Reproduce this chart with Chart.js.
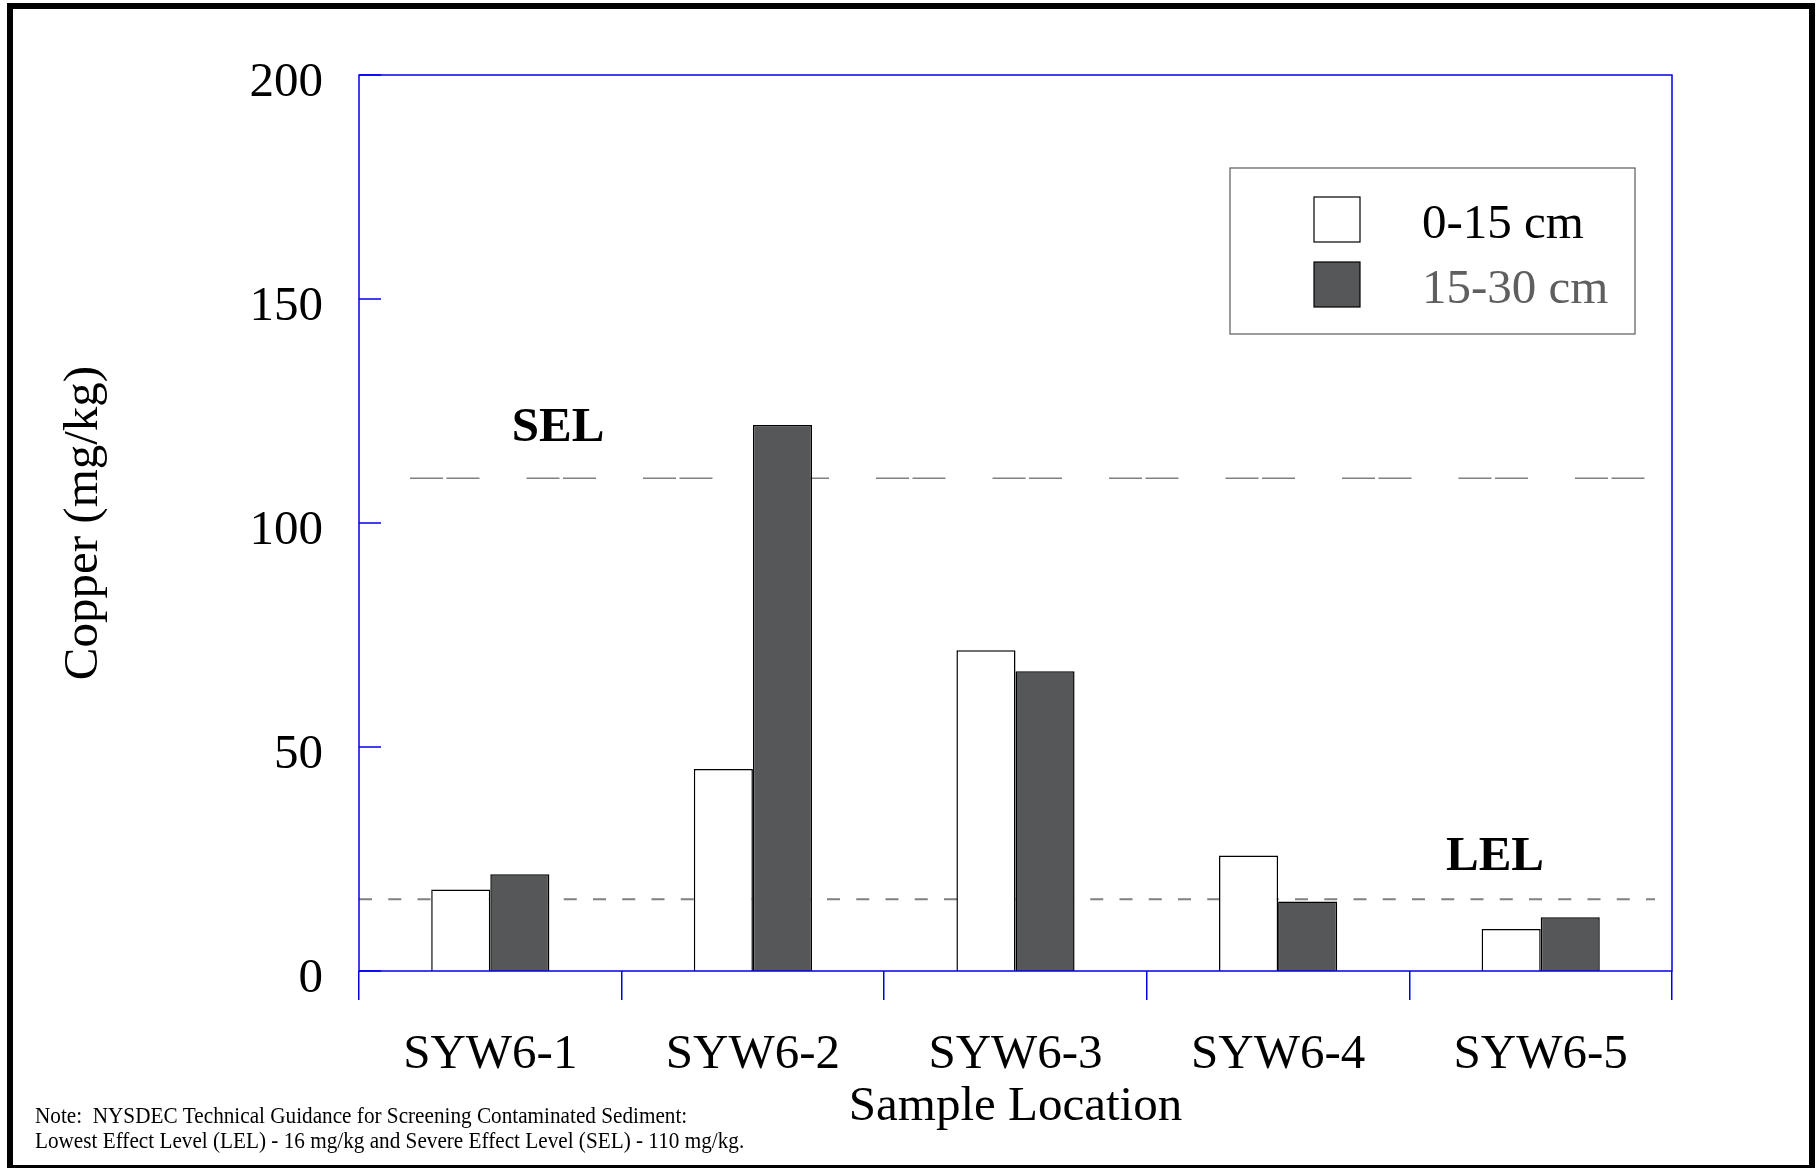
<!DOCTYPE html>
<html>
<head>
<meta charset="utf-8">
<title>Copper in sediment – SYW6</title>
<script src="https://cdn.jsdelivr.net/npm/chart.js@4/dist/chart.umd.min.js"></script>
<style>
  html, body { margin: 0; padding: 0; background: #fff; }
  canvas { display: block; }
</style>
</head>
<body>
<canvas id="chart" width="1816" height="1168"></canvas>
<script>
// Sample locations and copper concentrations (mg/kg) by depth interval
const locations = ['SYW6-1', 'SYW6-2', 'SYW6-3', 'SYW6-4', 'SYW6-5'];
const copperShallow = [18.2, 45.1, 71.6, 25.8, 9.4];   // 0-15 cm
const copperDeep = [21.6, 121.9, 66.9, 15.5, 12.0];     // 15-30 cm
const depthLabels = ['0-15 cm', '15-30 cm'];
const yTickValues = [0, 50, 100, 150, 200];

// NYSDEC screening levels (mg/kg)
const LEL = 16;
const SEL = 110;

const noteLines = [
  'Note:  NYSDEC Technical Guidance for Screening Contaminated Sediment:',
  'Lowest Effect Level (LEL) - 16 mg/kg and Severe Effect Level (SEL) - 110 mg/kg.'
];

const SERIF = "'Liberation Serif', 'Times New Roman', Times, serif";
const AXIS_BLUE = '#0000e6';
const DARK_FILL = '#565759';
const legendTextColors = ['#000000', '#5f5f5f'];

const decorations = {
  id: 'decorations',
  beforeDraw(chart) {
    const ctx = chart.ctx;
    ctx.save();
    ctx.fillStyle = '#ffffff';
    ctx.fillRect(0, 0, chart.width, chart.height);
    ctx.restore();
  },
  beforeDatasetsDraw(chart) {
    // screening-level reference lines sit behind the bars
    const { ctx, chartArea: a, scales: { y } } = chart;
    ctx.save();
    ctx.strokeStyle = '#808080';

    const ySel = y.getPixelForValue(SEL);
    ctx.lineWidth = 1.5;
    ctx.setLineDash([33, 3.5, 33, 47]);
    ctx.beginPath();
    ctx.moveTo(a.left + 51, ySel);
    ctx.lineTo(a.left + 51 + 10 * 116.5 + 69.5, ySel);
    ctx.stroke();

    const yLel = y.getPixelForValue(LEL);
    ctx.lineWidth = 2;
    ctx.setLineDash([13, 16.25]);
    ctx.beginPath();
    ctx.moveTo(a.left, yLel);
    ctx.lineTo(a.right - 17, yLel);
    ctx.stroke();
    ctx.restore();
  },
  afterDatasetsDraw(chart) {
    const { ctx, chartArea: a, scales: { y } } = chart;
    ctx.save();

    // plot frame
    ctx.strokeStyle = AXIS_BLUE;
    ctx.lineWidth = 1.5;
    ctx.setLineDash([]);
    ctx.strokeRect(a.left, a.top, a.right - a.left, a.bottom - a.top);

    // inward y tick marks
    ctx.beginPath();
    y.ticks.forEach(t => {
      const py = y.getPixelForValue(t.value);
      ctx.moveTo(a.left, py);
      ctx.lineTo(a.left + 22, py);
    });
    ctx.stroke();

    // screening-level labels
    ctx.fillStyle = '#000';
    ctx.font = 'bold 49px ' + SERIF;
    ctx.textAlign = 'center';
    ctx.textBaseline = 'middle';
    ctx.fillText('SEL', a.left + 199, y.getPixelForValue(SEL) - 50);
    ctx.fillText('LEL', a.left + 1136, y.getPixelForValue(LEL) - 42);

    // legend
    const bx = a.right - 442, by = a.top + 93, bw = 405, bh = 166;
    ctx.strokeStyle = '#5a5a5a';
    ctx.lineWidth = 1.2;
    ctx.strokeRect(bx, by, bw, bh);
    ctx.font = '49px ' + SERIF;
    ctx.textAlign = 'left';
    ctx.textBaseline = 'alphabetic';
    chart.data.datasets.forEach((ds, i) => {
      const sy = by + 29 + i * 65;
      ctx.fillStyle = ds.backgroundColor;
      ctx.fillRect(bx + 84, sy, 46, 45);
      ctx.strokeStyle = '#000';
      ctx.lineWidth = 1.2;
      ctx.strokeRect(bx + 84, sy, 46, 45);
      ctx.fillStyle = legendTextColors[i];
      ctx.fillText(ds.label, bx + 192, by + 70 + i * 65);
    });
    ctx.restore();
  },
  afterDraw(chart) {
    const ctx = chart.ctx;
    ctx.save();
    // footnote, set in a condensed serif
    ctx.fillStyle = '#000';
    ctx.font = '23px ' + SERIF;
    ctx.textAlign = 'left';
    ctx.textBaseline = 'alphabetic';
    noteLines.forEach((line, i) => {
      ctx.save();
      ctx.translate(35, 1123 + i * 25);
      ctx.scale(0.922, 1);
      ctx.fillText(line, 0, 0);
      ctx.restore();
    });
    // page border
    ctx.strokeStyle = '#000';
    ctx.lineWidth = 6;
    ctx.strokeRect(10, 6, 1802, 1162);
    ctx.restore();
  }
};

new Chart(document.getElementById('chart'), {
  type: 'bar',
  data: {
    labels: locations,
    datasets: [
      {
        label: depthLabels[0],
        data: copperShallow,
        backgroundColor: '#ffffff',
        borderColor: '#000000',
        borderWidth: 1.5,
        categoryPercentage: 0.45,
        barPercentage: 1.0
      },
      {
        label: depthLabels[1],
        data: copperDeep,
        backgroundColor: DARK_FILL,
        borderColor: '#000000',
        borderWidth: 1.5,
        categoryPercentage: 0.45,
        barPercentage: 1.0
      }
    ]
  },
  options: {
    responsive: false,
    animation: false,
    devicePixelRatio: 1,
    layout: { padding: { top: 75, right: 144, left: 0, bottom: 0 } },
    plugins: {
      legend: { display: false },
      tooltip: { enabled: false }
    },
    scales: {
      x: {
        grid: {
          display: true,
          drawOnChartArea: false,
          drawTicks: true,
          tickLength: 29,
          color: AXIS_BLUE,
          lineWidth: 1.5,
          offset: true
        },
        border: { display: false },
        ticks: {
          font: { family: SERIF, size: 49 },
          color: '#000',
          padding: 25.6,
          maxRotation: 0,
          autoSkip: false
        },
        title: {
          display: true,
          text: 'Sample Location',
          font: { family: SERIF, size: 49 },
          color: '#000',
          padding: { top: 0, bottom: 31 }
        },
        afterFit(scale) { scale.height = 197; }
      },
      y: {
        min: 0,
        max: 200,
        afterBuildTicks(scale) { scale.ticks = yTickValues.map(v => ({ value: v })); },
        grid: { display: false, drawTicks: false },
        border: { display: false },
        ticks: {
          font: { family: SERIF, size: 49 },
          color: '#000',
          padding: 36,
          labelOffset: 8
        },
        title: {
          display: true,
          text: 'Copper (mg/kg)',
          font: { family: SERIF, size: 49 },
          color: '#000',
          padding: { top: 55, bottom: 0 }
        },
        afterFit(scale) { scale.width = 359; }
      }
    }
  },
  plugins: [decorations]
});
</script>
</body>
</html>
